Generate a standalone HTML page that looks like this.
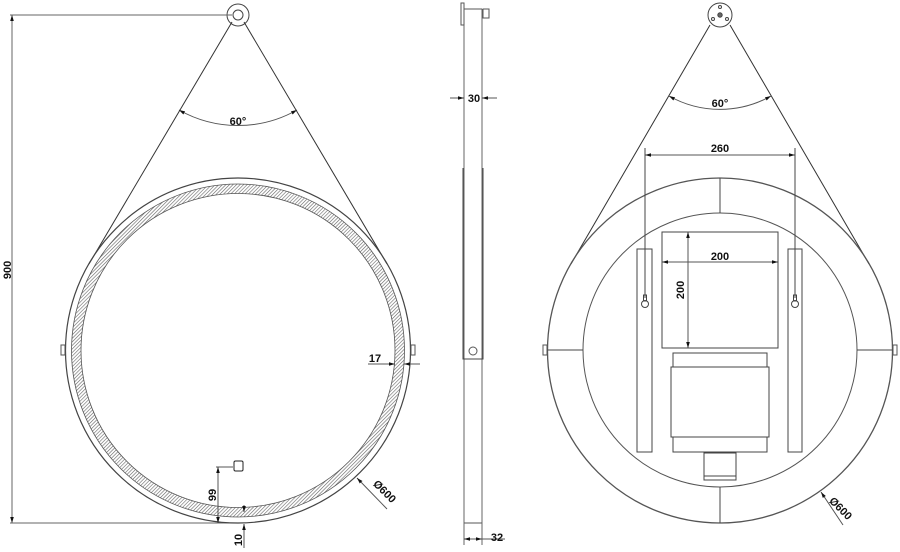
<!DOCTYPE html>
<html><head><meta charset="utf-8"><style>
html,body{margin:0;padding:0;background:#fff}
svg{display:block}
text{font-family:"Liberation Sans",sans-serif;font-size:11px;fill:#111;font-weight:bold}
</style></head><body>
<svg width="900" height="552" viewBox="0 0 900 552" xmlns="http://www.w3.org/2000/svg">
<defs>
<pattern id="h" width="2.5" height="2.5" patternUnits="userSpaceOnUse" patternTransform="rotate(45)">
<rect width="2.5" height="2.5" fill="#fff"/><line x1="0" y1="0" x2="0" y2="2.5" stroke="#666" stroke-width="1.2"/>
</pattern>
<marker id="a" viewBox="0 0 10 10" refX="10" refY="5" markerWidth="6" markerHeight="6" orient="auto-start-reverse"><path d="M0,2 L10,5 L0,8 z" fill="#111"/></marker>
</defs>
<g fill="none" stroke="#444" stroke-width="1">
<!-- LEFT VIEW -->
<circle cx="238" cy="15" r="11"/><circle cx="238" cy="15" r="5"/>
<line x1="10" y1="15" x2="232" y2="15" stroke="#666"/>
<line x1="12" y1="15" x2="12" y2="523" stroke="#666" marker-start="url(#a)" marker-end="url(#a)"/>
<line x1="10" y1="523" x2="230" y2="523" stroke="#666"/>
<line x1="232" y1="22" x2="89" y2="264" stroke="#333"/>
<line x1="244" y1="22" x2="387" y2="264" stroke="#333"/>
<circle cx="238" cy="350.5" r="172.5" stroke="#444" stroke-width="1.2"/>
<circle cx="238" cy="350.5" r="161.8" stroke="url(#h)" stroke-width="9.5"/>
<circle cx="238" cy="350.5" r="166.5" stroke="#555" stroke-width="0.8"/>
<circle cx="238" cy="350.5" r="157" stroke="#555" stroke-width="0.8"/>
<rect x="61" y="345" width="4" height="10" stroke="#555"/>
<rect x="411" y="345" width="4" height="10" stroke="#555"/>
<path d="M179,110 A120,120 0 0 0 297,110" stroke="#555" marker-start="url(#a)" marker-end="url(#a)"/>
<line x1="368" y1="364" x2="395" y2="364" stroke="#555" marker-end="url(#a)"/>
<line x1="420" y1="364" x2="404" y2="364" stroke="#555" marker-end="url(#a)"/>
<rect x="234" y="461" width="9" height="10" rx="1.5" stroke="#222"/>
<line x1="216" y1="467" x2="233" y2="467" stroke="#555"/>
<line x1="218" y1="467" x2="218" y2="523" stroke="#555" marker-start="url(#a)" marker-end="url(#a)"/>
<line x1="244" y1="505" x2="244" y2="512" stroke="#555" marker-end="url(#a)"/>
<line x1="244" y1="548" x2="244" y2="524" stroke="#555" marker-end="url(#a)"/>
<line x1="387" y1="509" x2="357" y2="478" stroke="#555" marker-end="url(#a)"/>
<!-- SIDE VIEW -->
<line x1="464" y1="9" x2="464" y2="523" stroke="#666"/>
<line x1="482" y1="9" x2="482" y2="523" stroke="#666"/>
<line x1="464" y1="523" x2="482" y2="523" stroke="#555"/>
<rect x="461" y="3" width="3" height="22" stroke="#555"/>
<line x1="464" y1="9" x2="482" y2="9" stroke="#555"/>
<rect x="483" y="9" width="6" height="9" stroke="#555"/>
<path d="M463,168 L463,359 L483,359 L483,168" stroke="#444" stroke-width="1"/>
<circle cx="473" cy="351" r="4" stroke="#555"/>
<line x1="450" y1="98" x2="464" y2="98" stroke="#555" marker-end="url(#a)"/>
<line x1="497" y1="98" x2="482" y2="98" stroke="#555" marker-end="url(#a)"/>
<line x1="464" y1="523" x2="464" y2="545" stroke="#666"/>
<line x1="482" y1="523" x2="482" y2="545" stroke="#666"/>
<line x1="464" y1="539" x2="482" y2="539" stroke="#555" marker-start="url(#a)" marker-end="url(#a)"/>
<line x1="482" y1="539" x2="505" y2="539" stroke="#555"/>
<!-- RIGHT VIEW -->
<circle cx="720" cy="15" r="12"/>
<circle cx="720" cy="15" r="2.2" fill="#666"/>
<circle cx="720" cy="7" r="1.5"/><circle cx="713" cy="19" r="1.5"/><circle cx="727" cy="19" r="1.5"/>
<line x1="710" y1="25" x2="571" y2="264" stroke="#333"/>
<line x1="730" y1="25" x2="869" y2="264" stroke="#333"/>
<circle cx="720" cy="350.5" r="172.5" stroke="#555" stroke-width="1.3"/>
<circle cx="720" cy="350" r="137" stroke="#555"/>
<line x1="720" y1="178" x2="720" y2="213"/><line x1="720" y1="487" x2="720" y2="523"/>
<line x1="547" y1="350" x2="583" y2="350"/><line x1="857" y1="350" x2="893" y2="350"/>
<rect x="543" y="345" width="4" height="10" stroke="#555"/>
<rect x="893" y="345" width="4" height="10" stroke="#555"/>
<path d="M669,96 A104,104 0 0 0 771,96" stroke="#555" marker-start="url(#a)" marker-end="url(#a)"/>
<line x1="645" y1="155" x2="795" y2="155" stroke="#555" marker-start="url(#a)" marker-end="url(#a)"/>
<line x1="645" y1="148" x2="645" y2="298"/><line x1="795" y1="148" x2="795" y2="298"/>
<rect x="637" y="249" width="15" height="203"/>
<rect x="788" y="249" width="14" height="203"/>
<circle cx="645" cy="304" r="3.5"/><rect x="643.5" y="295" width="3" height="6"/>
<circle cx="795" cy="304" r="3.5"/><rect x="793.5" y="295" width="3" height="6"/>
<rect x="662" y="232" width="116" height="116"/>
<line x1="662" y1="262" x2="778" y2="262" stroke="#555" marker-start="url(#a)" marker-end="url(#a)"/>
<line x1="688" y1="232" x2="688" y2="348" stroke="#555" marker-start="url(#a)" marker-end="url(#a)"/>
<rect x="673" y="353" width="94" height="99"/>
<rect x="671" y="367" width="98" height="70" fill="#fff"/>
<rect x="704" y="453" width="32" height="27"/>
<line x1="704" y1="476" x2="736" y2="476"/>
<line x1="843" y1="525" x2="821" y2="492" stroke="#555" marker-end="url(#a)"/>
</g>
<text x="238" y="125" text-anchor="middle" font-size="10">60°</text>
<text x="720" y="107" text-anchor="middle" font-size="10">60°</text>
<text transform="translate(11,270) rotate(-90)" text-anchor="middle" font-size="10">900</text>
<text x="375" y="362" text-anchor="middle" font-size="10">17</text>
<text transform="translate(216,495) rotate(-90)" text-anchor="middle" font-size="10">99</text>
<text transform="translate(242,540) rotate(-90)" text-anchor="middle" font-size="10">10</text>
<text transform="translate(382,494) rotate(45)" text-anchor="middle" font-size="10">Ø600</text>
<text x="474" y="102" text-anchor="middle" font-size="10">30</text>
<text x="497" y="541" text-anchor="middle" font-size="10">32</text>
<text x="720" y="152" text-anchor="middle" font-size="10">260</text>
<text x="720" y="260" text-anchor="middle" font-size="10">200</text>
<text transform="translate(684,290) rotate(-90)" text-anchor="middle" font-size="10">200</text>
<text transform="translate(838,511) rotate(45)" text-anchor="middle" font-size="10">Ø600</text>
</svg>
</body></html>
